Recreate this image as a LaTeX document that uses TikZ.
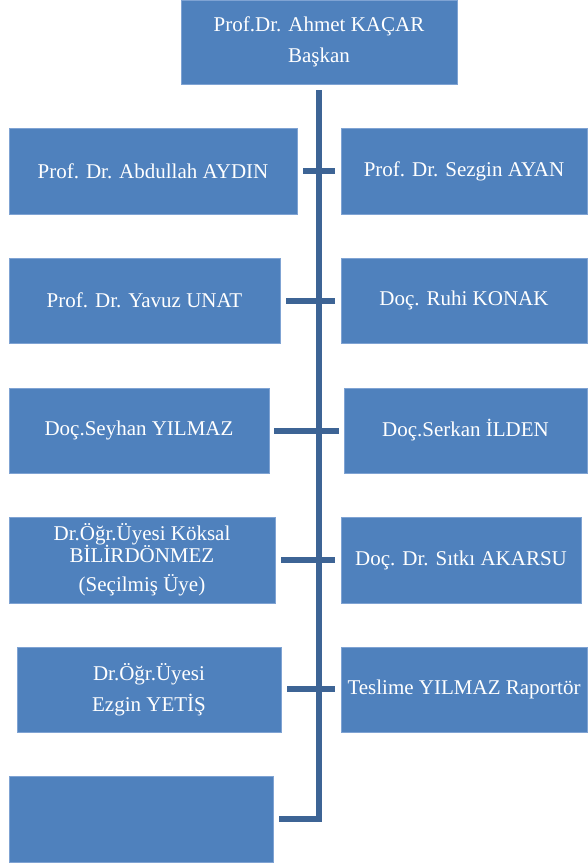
\documentclass[tikz,border=0pt]{standalone}
\usepackage{fontspec}
\setmainfont{Liberation Serif}
\definecolor{BoxBlue}{HTML}{4F81BD}
\definecolor{BoxEdge}{HTML}{7FA3D3}
\definecolor{LineBlue}{HTML}{3D6495}
\tikzset{
  orgbox/.style={rectangle, fill=BoxBlue, draw=BoxEdge, line width=0.6pt,
    inner sep=0pt, outer sep=0pt, anchor=north west, text=white,
    align=center, font=\fontsize{21}{31}\selectfont},
  trunk/.style={draw=LineBlue, line width=6pt, line join=miter},
  tick/.style={draw=LineBlue, line width=6pt}
}
\begin{document}
\begin{tikzpicture}[x=1pt,y=-1pt]
\useasboundingbox (0,0) rectangle (587,863);
% boxes
\node[orgbox, minimum width=276pt, minimum height=84pt] (top) at (181,0) {Prof.Dr. Ahmet KAÇAR\\Başkan};
\node[orgbox, minimum width=288pt, minimum height=86pt] (L1) at (9,128) {Prof. Dr. Abdullah AYDIN};
\node[orgbox, minimum width=246pt, minimum height=86pt] (R1) at (341,128) {Prof. Dr. Sezgin AYAN};
\node[orgbox, minimum width=271pt, minimum height=85pt] (L2) at (9,258) {Prof. Dr. Yavuz UNAT};
\node[orgbox, minimum width=246pt, minimum height=85pt] (R2) at (341,258) {Doç. Ruhi KONAK};
\node[orgbox, minimum width=260pt, minimum height=85pt] (L3) at (9,388) {Doç.Seyhan YILMAZ};
\node[orgbox, minimum width=243pt, minimum height=85pt] (R3) at (344,388) {Doç.Serkan İLDEN};
\node[orgbox, minimum width=266pt, minimum height=86pt] (L4) at (9,517) {Dr.Öğr.Üyesi Köksal\\[-9pt]BİLİRDÖNMEZ\\[-2pt](Seçilmiş Üye)};
\node[orgbox, minimum width=240pt, minimum height=86pt] (R4) at (341,517) {Doç. Dr. Sıtkı AKARSU};
\node[orgbox, minimum width=264pt, minimum height=85pt] (L5) at (17,647) {Dr.Öğr.Üyesi\\Ezgin YETİŞ};
\node[orgbox, minimum width=246pt, minimum height=85pt] (R5) at (341,647) {Teslime YILMAZ Raportör};
\node[orgbox, minimum width=264pt, minimum height=86pt] (L6) at (9,776) {};
% connector coordinates
\coordinate (bend) at (319,819);
\coordinate (tail) at (279,819);
\coordinate (t1a) at (303,171); \coordinate (t1b) at (335,171);
\coordinate (t2a) at (286,301); \coordinate (t2b) at (335,301);
\coordinate (t3a) at (274,431); \coordinate (t3b) at (339,431);
\coordinate (t4a) at (281,560); \coordinate (t4b) at (335,560);
\coordinate (t5a) at (287,689); \coordinate (t5b) at (335,689);
% trunk
\draw[trunk] ([yshift=-6pt]top.south) -- (bend) -- (tail);
% ticks
\draw[tick] (t1a) -- (t1b);
\draw[tick] (t2a) -- (t2b);
\draw[tick] (t3a) -- (t3b);
\draw[tick] (t4a) -- (t4b);
\draw[tick] (t5a) -- (t5b);
\end{tikzpicture}
\end{document}
